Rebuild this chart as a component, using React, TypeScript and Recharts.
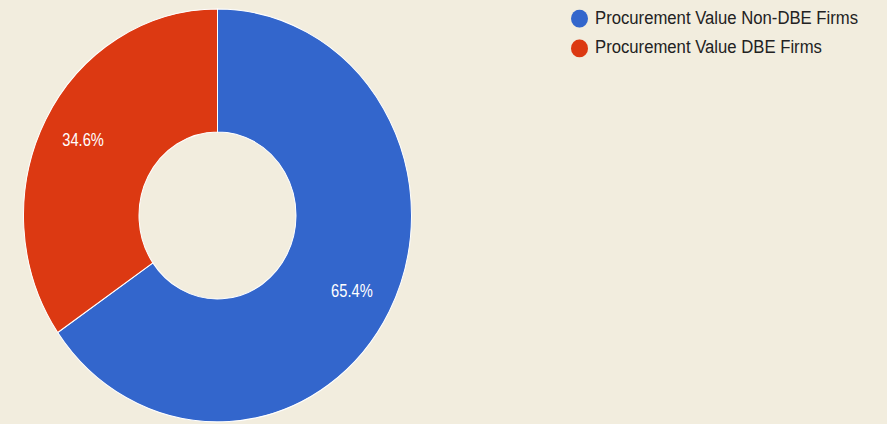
import { PieChart, Pie, Cell } from 'recharts';

const categories = ['Procurement Value Non-DBE Firms', 'Procurement Value DBE Firms'];
const shares = [65.4, 34.6];
const colors = ['#3366CC', '#DC3912'];

const data = categories.map((name, i) => ({ name, value: shares[i] }));

const RAD = Math.PI / 180;

// labels in the reference use a narrow face; squeeze Liberation Sans to match
function renderLabel(props: any) {
  const { cx, cy, midAngle, innerRadius, outerRadius, value } = props;
  const r = innerRadius + (outerRadius - innerRadius) * 0.635;
  const x = cx + r * Math.cos(-midAngle * RAD);
  const y = cy + r * Math.sin(-midAngle * RAD);
  return (
    <text
      x={0}
      y={0}
      transform={`translate(${x},${y}) scale(0.84,1)`}
      fill="#ffffff"
      fontSize={17.5}
      fontFamily="'Liberation Sans', Arial, sans-serif"
      textAnchor="middle"
      dominantBaseline="central"
    >
      {value.toFixed(1)}%
    </text>
  );
}

export default function App() {
  return (
    <div style={{ position: 'fixed', top: 0, left: 0, width: 887, height: 424, background: '#F2EDDE', overflow: 'hidden' }}>
      <div style={{ position: 'relative', transform: 'scaleY(1.064)', transformOrigin: 'top left' }}>
        <PieChart width={887} height={399} margin={{ top: 0, right: 0, bottom: 0, left: 0 }}>
          <Pie
            data={data}
            dataKey="value"
            nameKey="name"
            cx={217.5}
            cy={202.5}
            innerRadius={78.5}
            outerRadius={194}
            startAngle={90}
            endAngle={-270}
            stroke="#ffffff"
            strokeWidth={1}
            label={renderLabel}
            labelLine={false}
            isAnimationActive={false}
          >
            {data.map((d, i) => (
              <Cell key={d.name} fill={colors[i]} />
            ))}
          </Pie>
        </PieChart>
        <div style={{ position: 'absolute', left: 571, top: 4.2 }}>
          {data.map((d, i) => (
            <div key={d.name} style={{ display: 'flex', alignItems: 'center', height: 27.5 }}>
              <svg width={17} height={17} style={{ marginRight: 7 }}>
                <circle cx={8.5} cy={8.5} r={8.5} fill={colors[i]} />
              </svg>
              <span style={{ fontSize: 16.7, color: '#222222', fontFamily: "'Liberation Sans', Arial, sans-serif", whiteSpace: 'nowrap' }}>
                {d.name}
              </span>
            </div>
          ))}
        </div>
      </div>
    </div>
  );
}
